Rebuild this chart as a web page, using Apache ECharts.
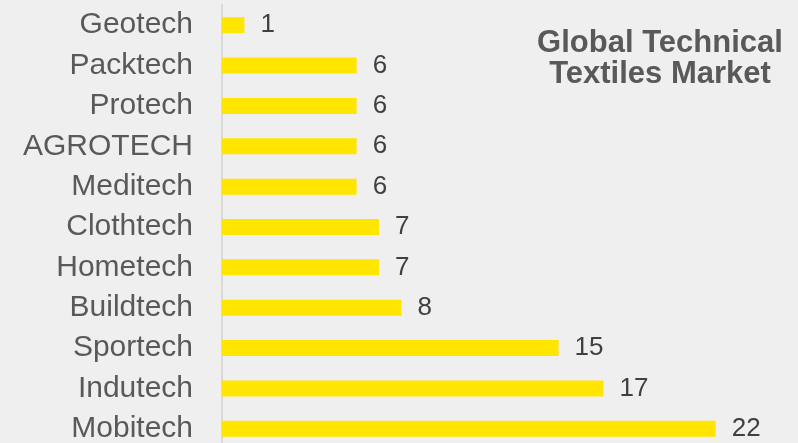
<!DOCTYPE html>
<html><head><meta charset="utf-8">
<script src="https://cdn.jsdelivr.net/npm/echarts@6/dist/echarts.min.js"></script>
<style>html,body{margin:0;padding:0;background:#efefef;overflow:hidden;width:798px;height:443px;}#c{width:798px;height:460px;}</style>
</head><body><div id="c"></div>
<script>
const categories = ['Mobitech','Indutech','Sportech','Buildtech','Hometech','Clothtech','Meditech','AGROTECH','Protech','Packtech','Geotech'];
const values = [22,17,15,8,7,7,6,6,6,6,1];
const titleText = 'Global Technical\nTextiles Market';

const chart = echarts.init(document.getElementById('c'));
chart.setOption({
  backgroundColor: '#efefef',
  animation: false,
  title: {
    text: titleText, left: 655, top: 23, textAlign: 'center',
    textStyle: {fontFamily: 'Liberation Sans', fontSize: 31, fontWeight: 'bold', color: '#595959', lineHeight: 31}
  },
  grid: {left: 222, top: 5, width: 561, height: 444},
  xAxis: {type: 'value', min: 0, max: 25, show: false},
  yAxis: {
    type: 'category', data: categories,
    axisLine: {lineStyle: {color: '#d9d9d9', width: 2}},
    axisTick: {show: false},
    axisLabel: {interval: 0, hideOverlap: false, fontFamily: 'Liberation Sans', fontSize: 30, lineHeight: 30, color: '#595959', margin: 29}
  },
  series: [{
    type: 'bar', data: values, barWidth: 16,
    itemStyle: {color: '#FFE500'},
    label: {show: true, position: 'right', distance: 16, fontFamily: 'Liberation Sans', fontSize: 26, color: '#404040'}
  }]
});
</script></body></html>
